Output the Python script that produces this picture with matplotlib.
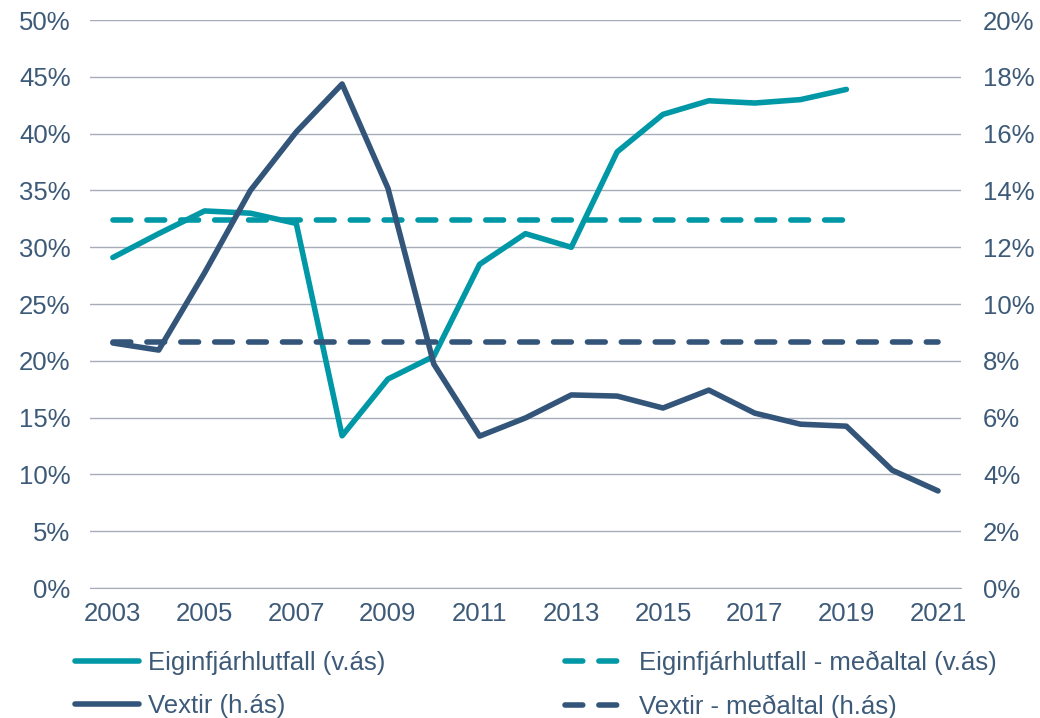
import matplotlib

matplotlib.use("Agg")

import matplotlib.pyplot as plt
from matplotlib.ticker import FuncFormatter

years = list(range(2003, 2022))
equity_years = list(range(2003, 2020))
equity_ratio = [29.1, 31.2, 33.2, 33.0, 32.1, 13.4, 18.4, 20.4, 28.5, 31.2,
                30.0, 38.4, 41.7, 42.9, 42.7, 43.0, 43.9]
equity_mean = 32.4
rates = [8.63, 8.38, 11.1, 14.0, 16.06, 17.75, 14.08, 7.89, 5.35, 5.99,
         6.8, 6.76, 6.34, 6.97, 6.16, 5.77, 5.70, 4.15, 3.42]
rates_mean = 8.66

TEAL = "#0098a6"
NAVY = "#34557a"
TEXT = "#3d5a78"
GRID = "#a7adb8"
FS = 18.5

plt.rcParams["font.family"] = ["Liberation Sans", "DejaVu Sans"]

fig = plt.figure(figsize=(10.4, 7.18), dpi=100)
ax = fig.add_axes([0.0865, 0.181, 0.8375, 0.791])
ax2 = ax.twinx()

lw = 4.0
l1, = ax.plot(equity_years, equity_ratio, color=TEAL, lw=lw,
              solid_capstyle="round", solid_joinstyle="round",
              label="Eiginfjárhlutfall (v.ás)")
l2, = ax.plot([equity_years[0], equity_years[-1]], [equity_mean] * 2,
              color=TEAL, lw=lw, dashes=(3.2, 2.9), dash_capstyle="round",
              label="Eiginfjárhlutfall - meðaltal (v.ás)")
l3, = ax2.plot(years, rates, color=NAVY, lw=lw,
               solid_capstyle="round", solid_joinstyle="round",
               label="Vextir (h.ás)")
l4, = ax2.plot([years[0], years[-1]], [rates_mean] * 2,
               color=NAVY, lw=lw, dashes=(3.2, 2.9), dash_capstyle="round",
               label="Vextir - meðaltal (h.ás)")

ax.set_xlim(2002.5, 2021.5)
ax.set_ylim(0, 50)
ax2.set_ylim(0, 20)
ax.set_yticks(range(0, 51, 5))
ax2.set_yticks(range(0, 21, 2))
ax.set_xticks(range(2003, 2022, 2))

pct = FuncFormatter(lambda v, _: f"{v:.0f}%")
ax.yaxis.set_major_formatter(pct)
ax2.yaxis.set_major_formatter(pct)

ax.grid(axis="y", color=GRID, lw=1)
ax.set_axisbelow(True)
ax2.set_zorder(ax.get_zorder() + 1)
ax2.patch.set_visible(False)

for a in (ax, ax2):
    for s in a.spines.values():
        s.set_visible(False)
    a.tick_params(length=0, labelsize=FS, colors=TEXT)
ax.spines["bottom"].set_visible(True)
ax.spines["bottom"].set_color(GRID)
ax.tick_params(axis="y", pad=14)
ax2.tick_params(axis="y", pad=16)
ax.tick_params(axis="x", pad=10)

fig.legend(handles=[l1, l3, l2, l4], ncol=2, loc="upper left",
           bbox_to_anchor=(0.072, 0.094), frameon=False, fontsize=FS,
           labelcolor=TEXT, handlelength=2.5, handletextpad=0.35,
           columnspacing=7.0, labelspacing=0.75, borderpad=0,
           borderaxespad=0)

fig.savefig("out.png", dpi=100)
